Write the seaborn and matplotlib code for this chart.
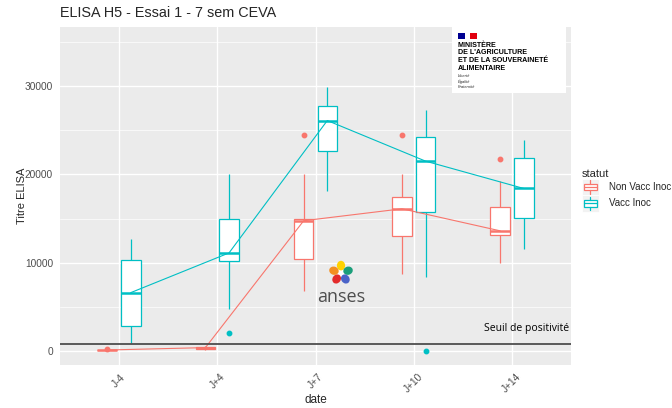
import numpy as np
import pandas as pd
import matplotlib
matplotlib.use("Agg")
import matplotlib.pyplot as plt
import seaborn as sns
from matplotlib.patches import Rectangle, Ellipse, Patch, Circle
from matplotlib.lines import Line2D
from matplotlib.legend_handler import HandlerBase

# ---------------- data ----------------
dates = ["J-4", "J+4", "J+7", "J+10", "J+14"]
statuts = ["Non Vacc Inoc", "Vacc Inoc"]

non_vacc_low = [60, 150, 6800, 8700, 10000]
non_vacc_q1 = [80, 250, 10400, 13000, 13100]
non_vacc_median = [100, 370, 14750, 16100, 13600]
non_vacc_q3 = [120, 480, 14900, 17400, 16300]
non_vacc_high = [140, 550, 20000, 20000, 19200]
non_vacc_outlier = [250, None, 24500, 24500, 21700]

vacc_low = [850, 4700, 18100, 8400, 11550]
vacc_q1 = [2870, 10150, 22700, 15700, 15100]
vacc_median = [6600, 11100, 26100, 21500, 18400]
vacc_q3 = [10300, 14950, 27800, 24200, 21900]
vacc_high = [12700, 20000, 29900, 27300, 23900]
vacc_outlier = [None, 2000, None, 0, None]

seuil = 800
colors = {"Non Vacc Inoc": "#F8766D", "Vacc Inoc": "#00BFC4"}

# build observations whose quartiles / whiskers reproduce the read summaries
rows = []
def add_group(date, statut, lo, q1, med, q3, hi, out):
    if out is None:
        vals = [lo, q1, q1, med, med, med, q3, q3, hi]
    elif out > hi:
        vals = [lo, q1, q1, med, med, med, q3, hi, out]
    else:
        vals = [out, lo, q1, med, med, med, q3, q3, hi]
    for v in vals:
        rows.append({"date": date, "statut": statut, "titre": v})

for i, d in enumerate(dates):
    add_group(d, statuts[0], non_vacc_low[i], non_vacc_q1[i], non_vacc_median[i],
              non_vacc_q3[i], non_vacc_high[i], non_vacc_outlier[i])
    add_group(d, statuts[1], vacc_low[i], vacc_q1[i], vacc_median[i],
              vacc_q3[i], vacc_high[i], vacc_outlier[i])
df = pd.DataFrame(rows)

# ---------------- style ----------------
sns.set_theme(style="darkgrid", rc={
    "axes.facecolor": "#EBEBEB",
    "grid.color": "white",
    "axes.edgecolor": "#EBEBEB",
})
plt.rcParams["font.family"] = ["Liberation Sans", "DejaVu Sans"]

W, H = 672, 408
fig = plt.figure(figsize=(W / 100, H / 100), dpi=100)
fig.patch.set_facecolor("white")
ax = fig.add_axes([60 / W, (H - 365) / H, 511 / W, 338 / H])

sns.boxplot(data=df, x="date", y="titre", hue="statut", order=dates,
            hue_order=statuts, palette=colors, saturation=1, width=0.48,
            gap=0.17, showcaps=False, linewidth=0.9, whis=1.5,
            flierprops=dict(marker="o", markersize=3.2),
            medianprops=dict(linewidth=1.8), legend=False, ax=ax)

for cont in ax.containers:
    try:
        boxes = cont.boxes
    except AttributeError:
        continue
    col = boxes[0].get_facecolor()
    for b in boxes:
        b.set_facecolor("white")
        b.set_edgecolor(col)
    for ln in list(cont.whiskers) + list(cont.medians):
        ln.set_color(col)
    for f in cont.fliers:
        f.set_markerfacecolor(col)
        f.set_markeredgecolor(col)

sns.pointplot(data=df, x="date", y="titre", hue="statut", order=dates,
              hue_order=statuts, palette=colors, estimator="median",
              errorbar=None, dodge=0.24, markersize=0, linewidth=0.8,
              legend=False, ax=ax)

ax.axhline(seuil, color="#4D4D4D", lw=1.3, zorder=3)
ax.text(4.58, 2300, "Seuil de positivité", ha="right", va="baseline",
        fontsize=7.5, family=["Open Sans", "DejaVu Sans"], color="black")

ax.set_xlim(-0.6, 4.6)
ax.set_ylim(-1600, 36700)
ax.set_yticks([0, 10000, 20000, 30000])
ax.set_yticks([5000, 15000, 25000, 35000], minor=True)
ax.grid(which="major", color="white", lw=1.0)
ax.grid(which="minor", axis="y", color="white", lw=0.5)
for s in ax.spines.values():
    s.set_visible(False)
ax.tick_params(axis="both", which="major", length=3, width=0.8, color="#333333",
               labelsize=7.3, labelcolor="#4D4D4D", pad=2)
ax.tick_params(axis="y", which="minor", length=0)
for lab in ax.get_xticklabels():
    lab.set_rotation(45)
    lab.set_ha("center")
ax.set_xlabel("date", fontsize=8.5, va="center")
ax.xaxis.set_label_coords(0.5, (365 - 400) / 338)
ax.set_ylabel("Titre ELISA", fontsize=8, va="center")
ax.yaxis.set_label_coords((22 - 60) / 511, 0.5)

fig.text(60 / W, 1 - 13 / H, "ELISA H5 - Essai 1 - 7 sem CEVA", fontsize=10.4,
         va="center", ha="left")

# ---------------- legend ----------------
class BoxKey(HandlerBase):
    def create_artists(self, legend, orig_handle, xd, yd, w, h, fontsize, trans):
        c = orig_handle.get_edgecolor()
        x0, y0 = -xd, -yd
        bg = Rectangle((x0, y0), w, h, facecolor="#F2F2F2", edgecolor="white",
                       lw=0.6, transform=trans)
        box = Rectangle((x0 + 0.12 * w, y0 + 0.3 * h), 0.76 * w, 0.4 * h,
                        facecolor="white", edgecolor=c, lw=0.9, transform=trans)
        med = Line2D([x0 + 0.12 * w, x0 + 0.88 * w], [y0 + 0.5 * h] * 2,
                     color=c, lw=0.9, transform=trans)
        wl = Line2D([x0 + 0.5 * w] * 2, [y0 + 0.08 * h, y0 + 0.3 * h],
                    color=c, lw=0.9, transform=trans)
        wh = Line2D([x0 + 0.5 * w] * 2, [y0 + 0.7 * h, y0 + 0.92 * h],
                    color=c, lw=0.9, transform=trans)
        return [bg, box, med, wl, wh]

handles = [Patch(facecolor="white", edgecolor=colors[s]) for s in statuts]
leg = fig.legend(handles, statuts, title="statut", loc="upper left",
                 bbox_to_anchor=(580 / W, 1 - 167 / H), frameon=False,
                 fontsize=7, title_fontsize=8, handlelength=1.75,
                 handleheight=2.2, labelspacing=0.0, handletextpad=1.0,
                 borderaxespad=0, borderpad=0.2, alignment="left",
                 handler_map={Patch: BoxKey()})

# ---------------- ministry logo ----------------
def fx(px):
    return px / W
def fy(py):
    return 1 - py / H

fig.patches.append(Rectangle((fx(452), fy(93)), (566 - 452) / W, (93 - 27) / H,
                             transform=fig.transFigure, facecolor="white",
                             edgecolor="none", zorder=5))
fig.patches.append(Rectangle((fx(458), fy(39)), 7 / W, 6 / H, transform=fig.transFigure,
                             facecolor="#000091", edgecolor="none", zorder=6))
fig.patches.append(Rectangle((fx(470), fy(39)), 7 / W, 6 / H, transform=fig.transFigure,
                             facecolor="#E1000F", edgecolor="none", zorder=6))
for i, t in enumerate(["MINISTÈRE", "DE L'AGRICULTURE", "ET DE LA SOUVERAINETÉ",
                       "ALIMENTAIRE"]):
    fig.text(fx(458), fy(45.5 + 7.5 * i), t, fontsize=5.1, fontweight="bold",
             va="center", ha="left", color="black", zorder=7)
for i, t in enumerate(["Liberté", "Égalité", "Fraternité"]):
    fig.text(fx(458), fy(76 + 5.3 * i), t, fontsize=3.0, fontstyle="italic",
             va="center", ha="left", color="#333333", zorder=7)

# ---------------- anses logo ----------------
lax = fig.add_axes([325 / W, 1 - 289 / H, 32 / W, 32 / H])
lax.set_xlim(-16, 16)
lax.set_ylim(-16, 16)
lax.axis("off")
lax.patch.set_alpha(0)
lax.add_patch(Circle((0, 0), 4.0, facecolor="white", edgecolor="none"))
petal_cols = ["#FFD200", "#1A9E7A", "#4A63C8", "#E32B2B", "#F39022"]
for ang, pc in zip([90, 18, -54, -126, 162], petal_cols):
    r = np.deg2rad(ang)
    lax.add_patch(Ellipse((7.4 * np.cos(r), 7.4 * np.sin(r)), 9.6, 8.2, angle=ang,
                          facecolor=pc, edgecolor="none"))
fig.text(fx(341), fy(297), "anses", fontsize=13, ha="center", va="center",
         color="#4D4D4D", family=["Open Sans", "DejaVu Sans"])

fig.savefig("out.png", dpi=100)
